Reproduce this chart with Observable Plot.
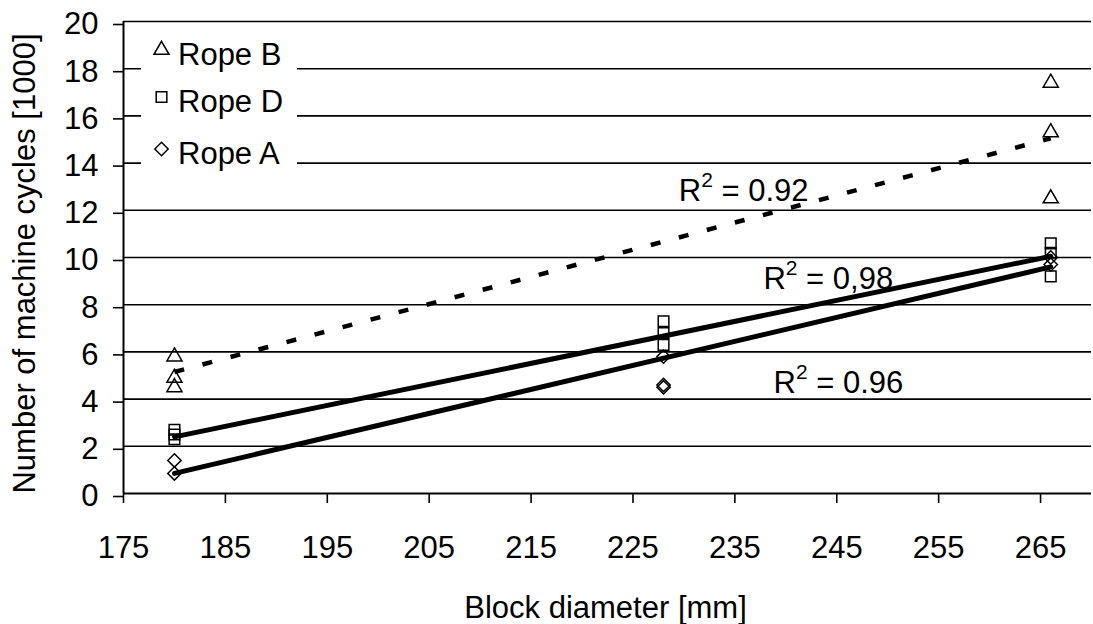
<!DOCTYPE html>
<html>
<head>
<meta charset="utf-8">
<script src="https://cdn.jsdelivr.net/npm/d3@7"></script>
<script src="https://cdn.jsdelivr.net/npm/@observablehq/plot@0.6"></script>
<style>
  html, body { margin: 0; padding: 0; background: #fff; }
  #chart { width: 1093px; height: 624px; }
</style>
</head>
<body>
<div id="chart"></div>
<script>
// ---- data ----
const xTicks = [175, 185, 195, 205, 215, 225, 235, 245, 255, 265];
const yTicks = [0, 2, 4, 6, 8, 10, 12, 14, 16, 18, 20];

const ropeNames = ["Rope B", "Rope D", "Rope A"];
const ropeSymbols = ["triangle", "square", "diamond2"];

const ropeBDiameter = [180, 180, 180, 266, 266, 266];
const ropeBCycles   = [5.8, 4.9, 4.5, 17.4, 15.3, 12.5];

const ropeDDiameter = [180, 180, 180, 228, 228, 228, 266, 266, 266];
const ropeDCycles   = [2.7, 2.5, 2.3, 7.3, 6.8, 6.3, 10.6, 10.2, 9.2];

const ropeADiameter = [180, 180, 228, 228, 228, 266, 266];
const ropeACycles   = [1.4, 0.85, 5.8, 4.6, 4.5, 10.0, 9.7];

const trendDiameter = [180, 266];
const trendB = [5.15, 15.05];
const trendD = [2.4, 10.05];
const trendA = [0.85, 9.6];

const r2Labels   = ["R² = 0.92", "R² = 0,98", "R² = 0.96"];
const r2Diameter = [229.5, 237.8, 238.8];
const r2Cycles   = [12.8, 9.1, 4.66];

// ---- tables built from the arrays ----
const pts = (xs, ys) => xs.map((x, i) => ({x, y: ys[i]}));
const ptsB = pts(ropeBDiameter, ropeBCycles);
const ptsD = pts(ropeDDiameter, ropeDCycles);
const ptsA = pts(ropeADiameter, ropeACycles);
const lineB = pts(trendDiameter, trendB);
const lineD = pts(trendDiameter, trendD);
const lineA = pts(trendDiameter, trendA);
const r2 = r2Labels.map((t, i) => ({t, x: r2Diameter[i], y: r2Cycles[i]}));

const FONT = "'Liberation Sans', Arial, sans-serif";
const FS = 31;
const R = {triangle: 5.6, square: 6, diamond2: 6};

function legendMark() {
  const g = d3.create("svg:g");
  g.append("rect").attr("x", 141).attr("y", 24).attr("width", 156).attr("height", 148).attr("fill", "#fff");
  const rows = [{sy: 50, ty: 64.5}, {sy: 97, ty: 112}, {sy: 149, ty: 163.5}];
  ropeNames.forEach((name, i) => {
    const sym = ropeSymbols[i];
    const type = {triangle: d3.symbolTriangle, square: d3.symbolSquare, diamond2: d3.symbolDiamond2}[sym];
    g.append("path")
      .attr("d", d3.symbol(type, R[sym] * R[sym] * Math.PI)())
      .attr("transform", `translate(161.5,${rows[i].sy})`)
      .attr("fill", "none").attr("stroke", "#000").attr("stroke-width", 1.5);
    g.append("text")
      .attr("x", 178).attr("y", rows[i].ty)
      .attr("text-anchor", "start")
      .attr("font-family", FONT).attr("font-size", FS).attr("fill", "#000")
      .text(name);
  });
  return g.node();
}

const dotOpts = (sym) => ({x: "x", y: "y", symbol: () => sym, r: R[sym], stroke: "#000", strokeWidth: 1.5, fill: "none"});

const chart = Plot.plot({
  width: 1093,
  height: 624,
  marginTop: 21,
  marginBottom: 131,
  marginLeft: 123,
  marginRight: 2,
  style: {fontFamily: FONT, fontSize: FS + "px", color: "#000", background: "#fff"},
  x: {domain: [175, 270], label: null},
  y: {domain: [0, 20], label: null},
  symbol: {type: "identity"},
  marks: [
    Plot.ruleY(yTicks.filter(d => d > 0), {stroke: "#000", strokeWidth: 1.6}),
    Plot.axisX(xTicks, {tickSize: 10, tickPadding: 32, strokeWidth: 1.6, fontSize: FS, tickFormat: d => String(d)}),
    Plot.axisY(yTicks, {tickSize: 10, tickPadding: 15, strokeWidth: 1.6, fontSize: FS, dy: 3, tickFormat: d => String(d)}),
    Plot.ruleX([175], {stroke: "#000", strokeWidth: 2}),
    Plot.ruleY([0], {stroke: "#000", strokeWidth: 2}),
    Plot.text(["Block diameter [mm]"], {frameAnchor: "bottom", dy: 115, dx: -2, fontSize: FS, textAnchor: "middle", lineAnchor: "middle", fill: "#000"}),
    Plot.text(["Number of machine cycles [1000]"], {frameAnchor: "left", dx: -98, dy: 6, rotate: -90, fontSize: FS, textAnchor: "middle", lineAnchor: "middle", fill: "#000"}),
    Plot.line(lineB, {x: "x", y: "y", stroke: "#000", strokeWidth: 4.5, strokeDasharray: "10,19", strokeLinecap: "butt"}),
    Plot.line(lineD, {x: "x", y: "y", stroke: "#000", strokeWidth: 5}),
    Plot.line(lineA, {x: "x", y: "y", stroke: "#000", strokeWidth: 5}),
    Plot.dot(ptsB, dotOpts("triangle")),
    Plot.dot(ptsD, dotOpts("square")),
    Plot.dot(ptsA, dotOpts("diamond2")),
    Plot.text(r2, {x: "x", y: "y", text: "t", textAnchor: "start", lineAnchor: "middle", fontSize: FS, fill: "#000"}),
    legendMark
  ]
});

// render the "²" of the R² labels as a real superscript
d3.select(chart).selectAll("text").each(function() {
  const s = this.textContent;
  if (!s.includes("²")) return;
  const [head, tail] = s.split("²");
  const el = d3.select(this);
  el.text(null);
  el.append("tspan").text(head);
  el.append("tspan").attr("font-size", 21).attr("dy", -14).text("2");
  el.append("tspan").attr("dy", 14).text(tail);
});

document.getElementById("chart").appendChild(chart);
</script>
</body>
</html>
